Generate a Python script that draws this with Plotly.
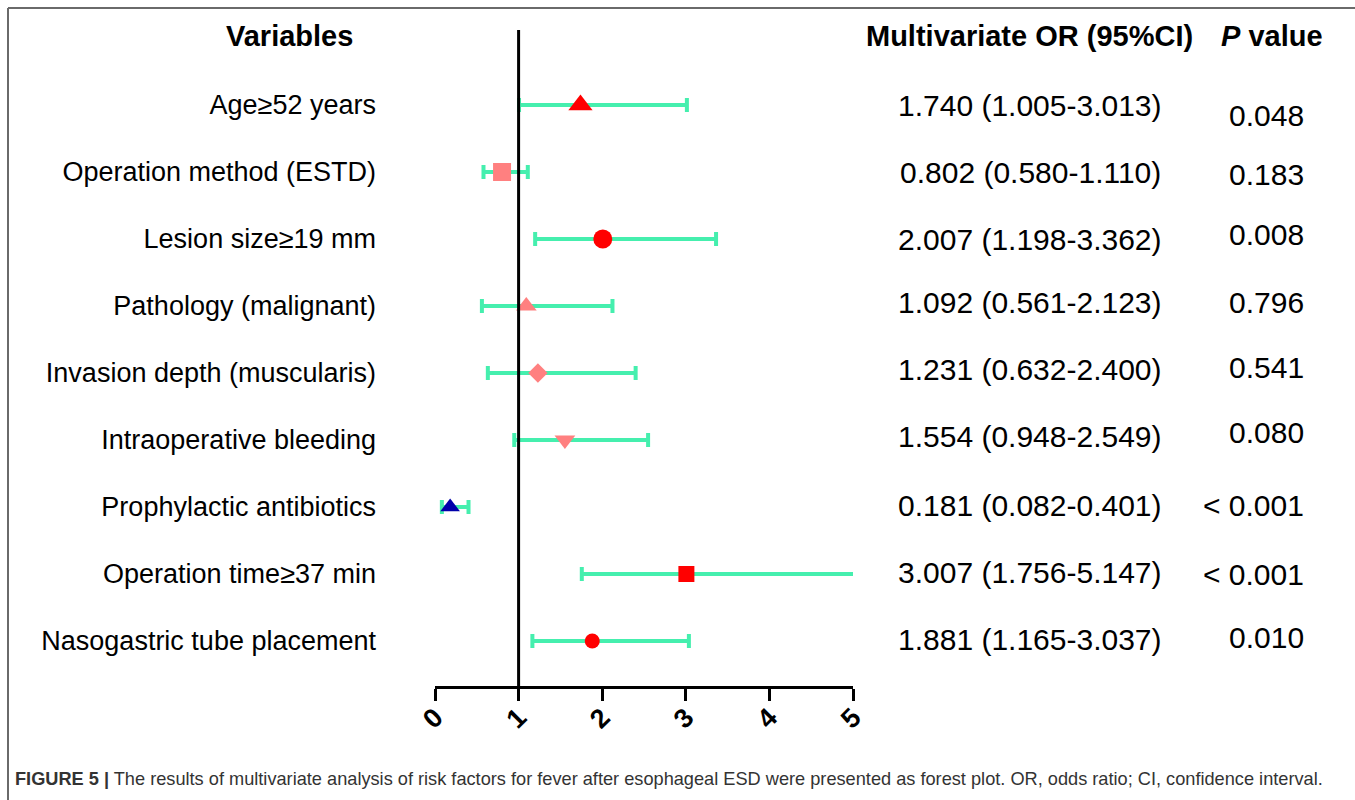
import plotly.graph_objects as go

# ---- data ----
variables = ["Age≥52 years", "Operation method (ESTD)", "Lesion size≥19 mm",
             "Pathology (malignant)", "Invasion depth (muscularis)",
             "Intraoperative bleeding", "Prophylactic antibiotics",
             "Operation time≥37 min", "Nasogastric tube placement"]
odds_ratio = [1.740, 0.802, 2.007, 1.092, 1.231, 1.554, 0.181, 3.007, 1.881]
ci_lower = [1.005, 0.580, 1.198, 0.561, 0.632, 0.948, 0.082, 1.756, 1.165]
ci_upper = [3.013, 1.110, 3.362, 2.123, 2.400, 2.549, 0.401, 5.147, 3.037]
p_values = ["0.048", "0.183", "0.008", "0.796", "0.541", "0.080", "< 0.001", "< 0.001", "0.010"]
x_ticks = [0, 1, 2, 3, 4, 5]

# ---- styles ----
symbols = ["triangle-up", "square", "circle", "triangle-up", "diamond",
           "triangle-down", "triangle-up", "square", "circle"]
colors = ["#FF0000", "#FF8080", "#FF0000", "#FF8080", "#FF8080",
          "#FF8080", "#0000AA", "#FF0000", "#FF0000"]
sizes = [21, 18, 19, 18, 15, 18, 17, 16, 15]
or_shift = [0, 0, 0, 4, 4, 4, 2, 2, 2]
p_shift = [-10, -2, 5, 4, 6, 8, 2, 0, 4]

FONT = "Liberation Sans, Arial, Helvetica, sans-serif"
GREEN = "#45EFAE"

# plot area in pixels
L, R, T, B = 435, 853, 30, 686
W, H = 1355, 800
def px(xp):
    return (xp - L) / (R - L)
def py(yp):
    return (B - yp) / (B - T)

err_plus = [u - o for u, o in zip(ci_upper, odds_ratio)]
err_minus = [o - l for o, l in zip(odds_ratio, ci_lower)]

fig = go.Figure()
fig.add_trace(go.Scatter(
    x=odds_ratio, y=variables, mode="markers",
    marker=dict(symbol=symbols, color=colors, size=sizes, opacity=1, line=dict(width=0)),
    error_x=dict(type="data", symmetric=False, array=err_plus, arrayminus=err_minus,
                 color=GREEN, thickness=4, width=7),
    cliponaxis=True, showlegend=False, hoverinfo="skip"))

row_px0 = 105
row_step = 67
fig.update_yaxes(
    type="category", categoryorder="array", categoryarray=variables,
    range=[(B - row_px0) / row_step, (T - row_px0) / row_step],
    showgrid=False, zeroline=False, showline=False, ticks="",
    tickfont=dict(family=FONT, size=27, color="black"),
    ticklabelstandoff=L - 377, fixedrange=True)
fig.update_xaxes(
    range=[0, 5], tickvals=x_ticks, ticktext=[str(t) for t in x_ticks],
    showgrid=False, zeroline=False, showline=True, linecolor="black", linewidth=3,
    ticks="outside", ticklen=12, tickwidth=3, tickcolor="black",
    tickangle=-45, tickfont=dict(family=FONT, size=27, color="black", weight="bold"),
    ticklabelstandoff=-10, fixedrange=True)

shapes = [
    dict(type="line", xref="x", yref="paper", x0=1, x1=1, y0=0, y1=1,
         line=dict(color="black", width=3), layer="above"),
    dict(type="line", xref="paper", yref="paper", x0=px(8), x1=px(1360), y0=py(8), y1=py(8),
         line=dict(color="#6a6a6a", width=2)),
    dict(type="line", xref="paper", yref="paper", x0=px(8), x1=px(8), y0=py(8), y1=py(805),
         line=dict(color="#6a6a6a", width=2)),
]

ann = []
hdr = dict(family=FONT, size=29, color="black")
ann.append(dict(text="<b>Variables</b>", x=px(289), y=py(36), xref="paper", yref="paper",
                xanchor="center", yanchor="middle", showarrow=False, font=hdr))
ann.append(dict(text="<b>Multivariate OR (95%CI)</b>", x=px(1029), y=py(36), xref="paper",
                yref="paper", xanchor="center", yanchor="middle", showarrow=False, font=hdr))
ann.append(dict(text="<b><i>P</i> value</b>", x=px(1272), y=py(36), xref="paper", yref="paper",
                xanchor="center", yanchor="middle", showarrow=False, font=hdr))

val_font = dict(family=FONT, size=30, color="black")
for i, v in enumerate(variables):
    txt = f"{odds_ratio[i]:.3f} ({ci_lower[i]:.3f}-{ci_upper[i]:.3f})"
    ann.append(dict(text=txt, x=px(1030), y=v, xref="paper", yref="y",
                    xanchor="center", yanchor="middle", showarrow=False,
                    yshift=or_shift[i], font=val_font))
    ann.append(dict(text=p_values[i], x=px(1306), y=v, xref="paper", yref="y",
                    xanchor="right", yanchor="middle", showarrow=False,
                    yshift=p_shift[i], font=val_font))

ann.append(dict(
    text="<b>FIGURE 5 |</b> The results of multivariate analysis of risk factors for fever after "
         "esophageal ESD were presented as forest plot. OR, odds ratio; CI, confidence interval.",
    x=px(13), y=py(779), xref="paper", yref="paper", xanchor="left", yanchor="middle",
    showarrow=False, font=dict(family=FONT, size=18.2, color="#333333")))

fig.update_layout(
    width=W, height=H, autosize=False,
    margin=dict(l=L, r=W - R, t=T, b=H - B, pad=0),
    paper_bgcolor="white", plot_bgcolor="white",
    shapes=shapes, annotations=ann, showlegend=False)

fig.write_html("out.html", config={"displayModeBar": False},
               post_script="document.body.style.margin='0px';document.body.style.padding='0px';")
